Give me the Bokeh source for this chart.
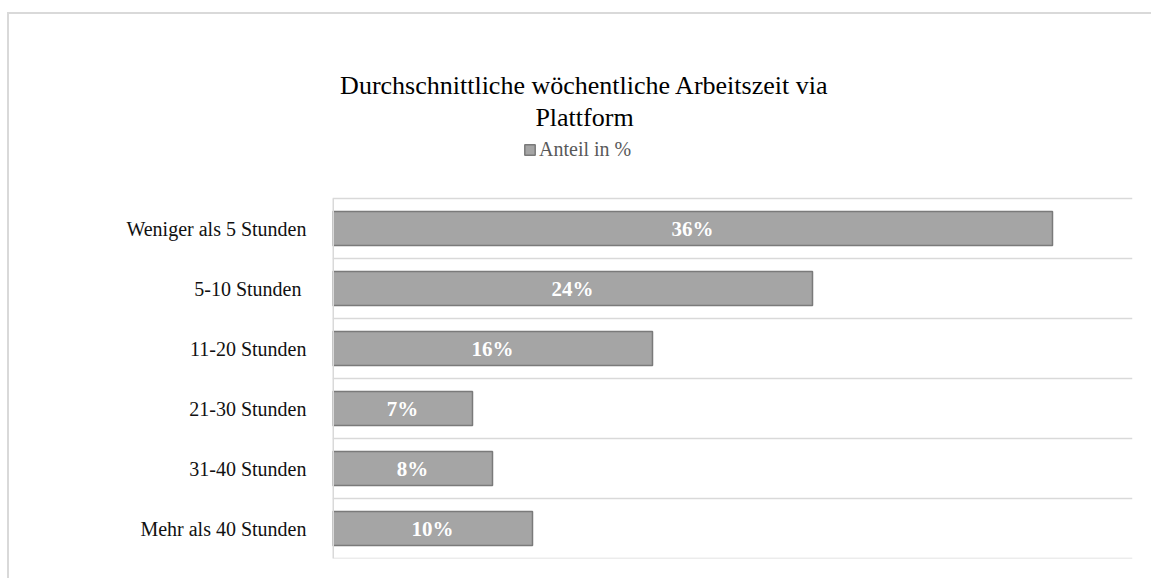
from bokeh.plotting import figure
from bokeh.models import Range1d, Span, Label, Legend, LegendItem, ColumnDataSource, FixedTicker
from bokeh.core.properties import value
from bokeh.embed import file_html
from bokeh.resources import INLINE

title_lines = ["Durchschnittliche wöchentliche Arbeitszeit via", "Plattform"]
series_name = "Anteil in %"
categories = ["Weniger als 5 Stunden", "5-10 Stunden ", "11-20 Stunden",
              "21-30 Stunden", "31-40 Stunden", "Mehr als 40 Stunden"]
values = [36, 24, 16, 7, 8, 10]
value_labels = ["36%", "24%", "16%", "7%", "8%", "10%"]
x_max = 40

SERIF = "Liberation Serif"
n = len(categories)
ypos = [n - i for i in range(n)]          # first category on top

source = ColumnDataSource(dict(
    y=ypos,
    val=values,
    mid=[v / 2 for v in values],
    lab=value_labels,
))

# frame covers the whole chart area; rows occupy y in [0.5, n + 0.5]
row_px = 60
frame_h = 544
p = figure(
    y_range=Range1d(0.5, 0.5 + frame_h / row_px),
    x_range=Range1d(0, x_max),
    frame_width=800, frame_height=frame_h,
    min_border_left=323, min_border_right=19,
    min_border_top=0, min_border_bottom=20,
    output_backend="svg", toolbar_location=None,
    margin=(12, 0, 0, 7),
    styles={"border-left": "2px solid #d9d9d9", "border-top": "2px solid #d9d9d9"},
)
p.outline_line_color = None
p.background_fill_color = "white"
p.border_fill_color = "white"

bars = p.hbar(y="y", right="val", height=0.57, source=source,
              fill_color="#a5a5a5", line_color="#7a7a7a", line_width=1.5)

p.text(x="mid", y="y", text="lab", source=source,
       text_font=value(SERIF), text_font_size="21px", text_font_style="bold",
       text_color="white", text_align="center", text_baseline="middle")

p.xaxis.visible = False
p.xgrid.grid_line_color = None
p.ygrid.grid_line_color = None
for i in range(n + 1):
    p.add_layout(Span(location=i + 0.5, dimension="width", line_color="#d9d9d9", line_width=1.5))
# vertical category-axis line over the rows only
p.segment(x0=[0], y0=[0.5], x1=[0], y1=[n + 0.5], line_color="#d9d9d9", line_width=3)

yax = p.yaxis[0]
yax.ticker = FixedTicker(ticks=ypos)
yax.major_label_overrides = {yv: c for yv, c in zip(ypos, categories)}
yax.axis_line_color = None
yax.major_tick_line_color = None
yax.minor_tick_line_color = None
yax.major_label_standoff = 20
yax.major_label_text_font = SERIF
yax.major_label_text_font_size = "20px"
yax.major_label_text_color = "#111111"

title_x = 12.6
p.add_layout(Label(x=title_x, y=8.38, text=title_lines[0], text_align="center",
                   text_baseline="alphabetic", text_font=SERIF, text_font_size="26px",
                   text_color="#000000"))
p.add_layout(Label(x=title_x, y=7.85, text=title_lines[1], text_align="center",
                   text_baseline="alphabetic", text_font=SERIF, text_font_size="26px",
                   text_color="#000000"))

legend = Legend(items=[LegendItem(label=series_name, renderers=[bars])],
                location=(191, 397), orientation="horizontal",
                padding=0, margin=0, spacing=0,
                glyph_width=13, glyph_height=13, label_standoff=3,
                label_text_font=SERIF, label_text_font_size="20px",
                label_text_color="#595959",
                border_line_color=None, background_fill_alpha=0)
p.add_layout(legend, "center")

open("out.html", "w").write(file_html(p, INLINE))
